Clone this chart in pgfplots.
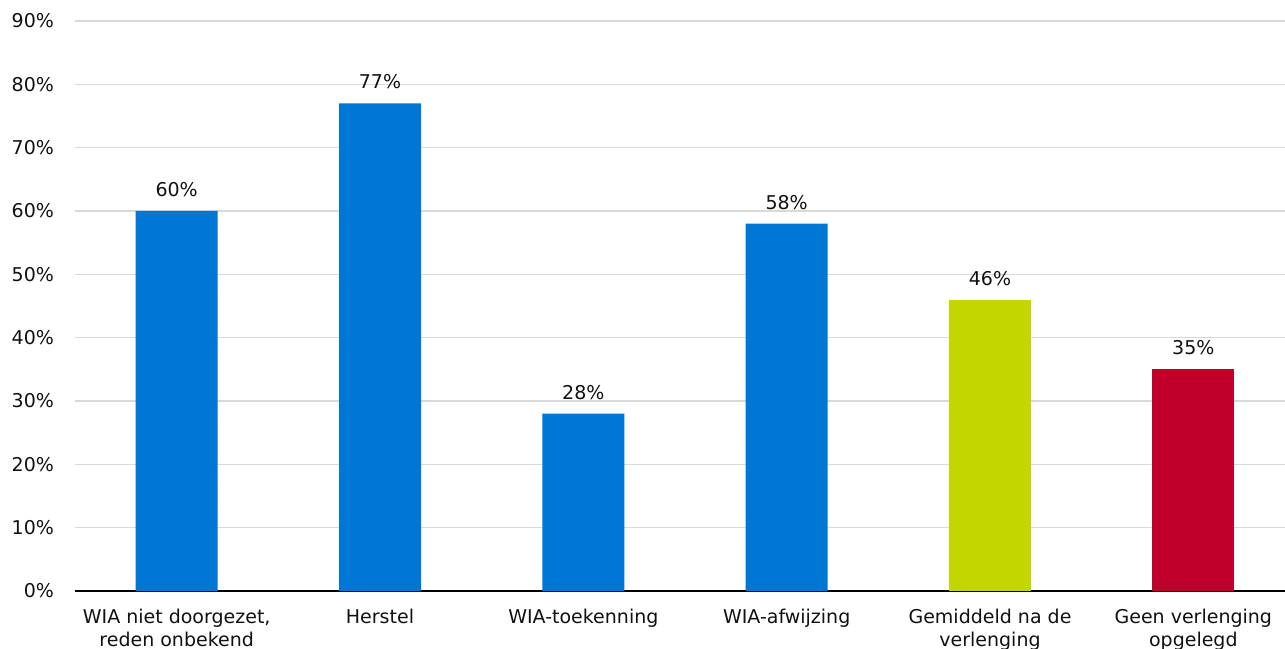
\documentclass[border=0pt]{standalone}
\usepackage{fontspec}
\setmainfont{DejaVu Sans}
\usepackage{pgfplots}
\pgfplotsset{compat=1.18}
\definecolor{barblue}{HTML}{0077D4}
\definecolor{barlime}{HTML}{C4D600}
\definecolor{barred}{HTML}{BF002A}
\definecolor{gridgray}{HTML}{D9D9D9}
\definecolor{txt}{HTML}{111111}
\begin{document}
\begin{tikzpicture}
\path[use as bounding box, clip] (-37.5pt,-28.5pt) rectangle (605pt,295.5pt);
\begin{axis}[
scale only axis,
width=610pt, height=285pt,
xmin=-0.5, xmax=5.5, ymin=0, ymax=90,
ybar, bar width=41pt, bar shift=0pt,
axis x line*=bottom, axis y line*=left,
x axis line style={black, line width=0.8pt},
y axis line style={draw=none},
major tick length=0pt,
ymajorgrids, major grid style={gridgray, line width=0.8pt},
xtick={0,...,5},
xticklabels={{WIA niet doorgezet,\\reden onbekend}, Herstel, WIA-toekenning, WIA-afwijzing, {Gemiddeld na de\\verlenging}, {Geen verlenging\\opgelegd}},
ytick={0,10,...,90},
yticklabels={0\%,10\%,20\%,30\%,40\%,50\%,60\%,70\%,80\%,90\%},
ticklabel style={font=\fontsize{9.5}{11.5}\selectfont, text=txt},
xticklabel style={align=center, yshift=-5.5pt},
yticklabel style={xshift=-7pt},
/pgf/number format/assume math mode=true,
nodes near coords={\pgfmathprintnumber{\pgfplotspointmeta}\%},
every node near coord/.append style={font=\fontsize{9.5}{11}\selectfont, text=txt, yshift=3.5pt},
]
\addplot[fill=barblue, draw=none] coordinates {(0,60) (1,77) (2,28) (3,58)};
\addplot[fill=barlime, draw=none] coordinates {(4,46)};
\addplot[fill=barred, draw=none] coordinates {(5,35)};
\end{axis}
\end{tikzpicture}
\end{document}
